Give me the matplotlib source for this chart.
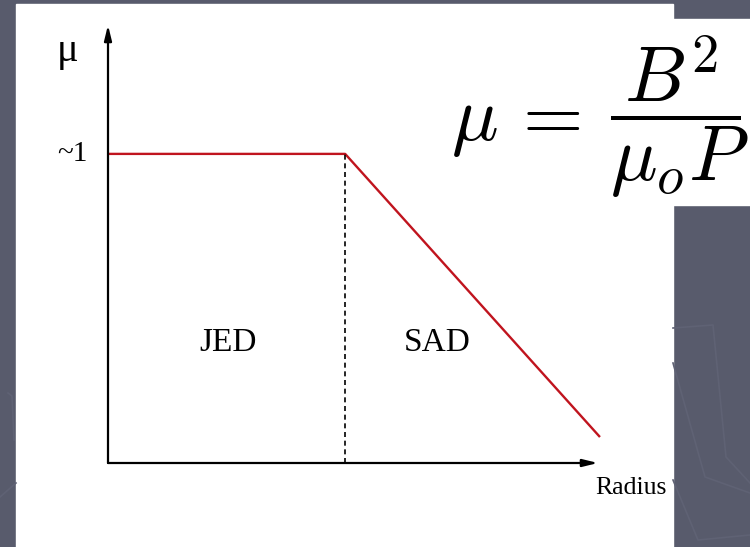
import matplotlib
matplotlib.use('Agg')
import matplotlib.pyplot as plt
from matplotlib.patches import Rectangle
from matplotlib.lines import Line2D

# ---------- data (schematic) ----------
radius = [0.0, 0.484, 1.004]      # JED -> SAD break, outer edge
mu_vals = [1.0, 1.0, 0.084]       # mu ~ 1 in JED, falls off in SAD
mu_top = 1.417                    # y-axis arrow tip
regions = ['JED', 'SAD']
region_x = [0.245, 0.672]
region_y = 0.39

BG = '#585b6c'; RED = '#c0141e'; DECO = '#5f6274'
SERIF = ['Liberation Serif', 'DejaVu Serif']

W, H = 750, 547
fig = plt.figure(figsize=(W/100, H/100), dpi=100, facecolor=BG)

# faint slide decoration lines (pixel coords)
deco = [([673, 713, 726, 750], [328, 325, 457, 483]),
        ([673, 705, 750], [363, 477, 493]),
        ([673, 698, 750], [480, 540, 535]),
        ([8, 12, 14], [393, 396, 440]),
        ([0, 16], [497, 483])]
for xs, ys in deco:
    fig.add_artist(Line2D([x/W for x in xs], [1-y/H for y in ys],
                          color=DECO, lw=1.2, transform=fig.transFigure))

# white image panel + formula box
fig.add_artist(Rectangle((16/W, 0), (673-16)/W, 1-4/H, color='white',
                         transform=fig.transFigure, zorder=1))
fig.add_artist(Rectangle((430/W, 1-205/H), (W-430)/W, (205-19)/H, color='white',
                         transform=fig.transFigure, zorder=2))

# plot axes: x 108..598 px, y 463 (0) .. 25 (top)
x0, x1, yb, yt = 108, 598, 463, 25
ax = fig.add_axes([x0/W, 1-yb/H, (x1-x0)/W, (yb-yt)/H])
ax.set_xlim(0, 1); ax.set_ylim(0, mu_top)
ax.axis('off'); ax.set_zorder(3)

ax.plot(radius, mu_vals, color=RED, lw=1.7, solid_capstyle='butt', clip_on=False)
ax.plot([radius[1], radius[1]], [0, mu_vals[1]], color='black', lw=1.2,
        ls=(0, (3, 2.2)), clip_on=False)

arrow = dict(arrowstyle='-|>,head_length=0.9,head_width=0.22', color='black',
             lw=1.6, shrinkA=0, shrinkB=0)
ax.annotate('', xy=(0, mu_top), xytext=(0, 0), arrowprops=arrow, annotation_clip=False)
ax.annotate('', xy=(1.0, 0), xytext=(0, 0), arrowprops=arrow, annotation_clip=False)

for name, rx in zip(regions, region_x):
    ax.text(rx, region_y, name, family=SERIF, fontsize=24, ha='center', va='center')

ax.text(-0.041, 1.0, '~1', family=SERIF, fontsize=21, ha='right', va='center')
ax.text(-0.06, 1.33, '\u03bc', family=SERIF, fontsize=29, ha='right', va='center')
ax.text(1.067, -0.08, 'Radius', family=SERIF, fontsize=18.5, ha='center', va='center')

# formula, drawn in two parts so the fraction bar sits where it does in the slide
plt.rcParams['mathtext.fontset'] = 'cm'
fig.text(451/W, 1-140/H, r'$\mu\,=$', fontsize=56, ha='left', va='baseline', zorder=4)
fig.text(610/W, 1-117/H, r'$\dfrac{B^2}{\mu_o P}$', fontsize=56,
         ha='left', va='center', zorder=4)

fig.savefig('out.png', dpi=100, facecolor=BG)
